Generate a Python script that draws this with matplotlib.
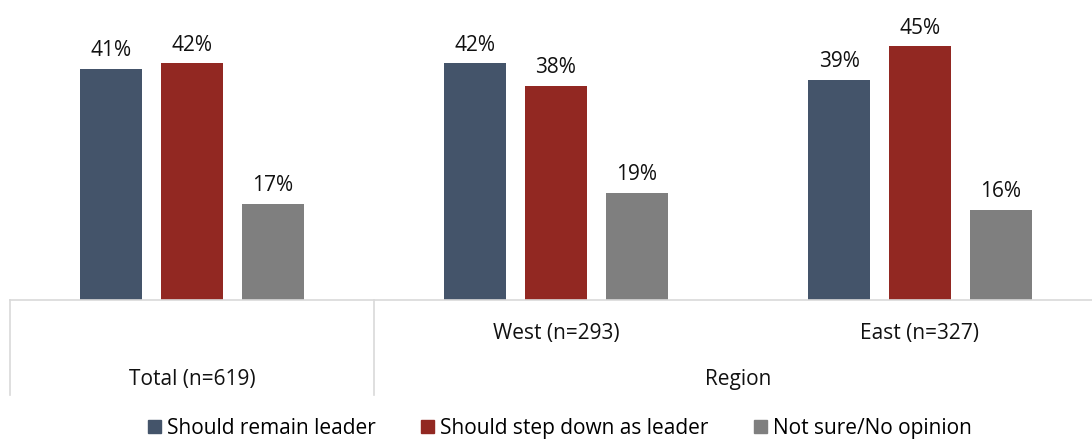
import matplotlib
matplotlib.use("Agg")
import matplotlib.pyplot as plt
from matplotlib.patches import Patch
import matplotlib.transforms as mtransforms
import numpy as np

plt.rcParams['font.family'] = ['Open Sans', 'DejaVu Sans']

groups = ["Total (n=619)", "West (n=293)", "East (n=327)"]
series = ["Should remain leader", "Should step down as leader", "Not sure/No opinion"]
remain = [41, 42, 39]
step_down = [42, 38, 45]
not_sure = [17, 19, 16]
colors = ["#44546A", "#922822", "#7F7F7F"]

W, H = 1092, 440
FS = 15
fig = plt.figure(figsize=(W / 100, H / 100), dpi=100)
# axes spans 10px..1102px horizontally (last category cut at the image edge)
ax = fig.add_axes([10 / W, 140 / H, 1092 / W, 300 / H])

x = np.arange(len(groups))
bar_w = 0.173
step = 0.2225
values = [remain, step_down, not_sure]
for i, vals in enumerate(values):
    xs = x + (i - 1) * step
    bars = ax.bar(xs, vals, width=bar_w, color=colors[i], label=series[i], zorder=2)
    for b, v in zip(bars, vals):
        ax.annotate(f"{v}%", (b.get_x() + b.get_width() / 2, v), xytext=(0, 5.5),
                    textcoords="offset points", ha="center", va="bottom",
                    fontsize=FS, color="#111111")

ax.set_xlim(-0.5, 2.5)
ax.set_ylim(0, 53.2)
for s in ["top", "right", "left"]:
    ax.spines[s].set_visible(False)
ax.spines["bottom"].set_color("#D9D9D9")
ax.spines["bottom"].set_linewidth(1.2)
ax.set_yticks([])
ax.set_xticks([])

# multi-level category axis
trans = mtransforms.blended_transform_factory(ax.transData, ax.transAxes)
lower = -95 / 300
for xv in [-0.5, 0.5]:
    ax.plot([xv, xv], [0, lower], transform=trans, color="#D9D9D9", lw=1.2, clip_on=False)

ax.text(x[0], -79 / 300, groups[0], transform=trans, ha="center", va="center", fontsize=FS, color="#111111")
ax.text(x[1], -33 / 300, groups[1], transform=trans, ha="center", va="center", fontsize=FS, color="#111111")
ax.text(x[2], -33 / 300, groups[2], transform=trans, ha="center", va="center", fontsize=FS, color="#111111")
ax.text(1.5, -79 / 300, "Region", transform=trans, ha="center", va="center", fontsize=FS, color="#111111")

handles = [Patch(color=c, label=s) for c, s in zip(colors, series)]
fig.legend(handles=handles, loc="center", bbox_to_anchor=(560 / W, 1 - 428 / H), ncol=3,
           frameon=False, fontsize=FS, handlelength=0.6, handleheight=0.6,
           handletextpad=0.3, columnspacing=2.2, borderpad=0.2)

fig.savefig("out.png", dpi=100)
